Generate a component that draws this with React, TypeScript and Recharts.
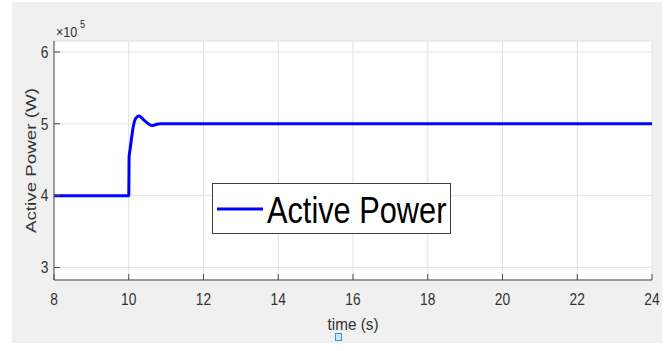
import React from 'react';
import { LineChart, Line, XAxis, YAxis, CartesianGrid, Legend } from 'recharts';

const timeValues = [8, 9, 10, 10.01, 10.034, 10.08, 10.12, 10.17, 10.23, 10.28, 10.39, 10.5, 10.62, 10.73, 10.84, 11, 12, 14, 16, 18, 20, 22, 24];
const powerValues = [400000, 400000, 400000, 454000, 464000, 482000, 496000, 506000, 510000, 511000, 506000, 501000, 497500, 499000, 500000, 500000, 500000, 500000, 500000, 500000, 500000, 500000, 500000];
const xTicks = [8, 10, 12, 14, 16, 18, 20, 22, 24];
const yTicks = [300000, 400000, 500000, 600000];
const seriesName = 'Active Power';

const data = timeValues.map((t, i) => ({ time: t, power: powerValues[i] }));

const FONT = '"Liberation Sans", Arial, Helvetica, sans-serif';
const AXIS = '#4a4a4a';
const TEXT = '#333333';
const GRID = '#e0e0e0';
const TICK_LEN = 6;

const BottomTick = (props: any) => {
  const { x, y, payload } = props;
  return (
    <g>
      <line x1={x} x2={x} y1={y} y2={y - TICK_LEN} stroke={AXIS} strokeWidth={1} />
      <text
        transform={`translate(${x},${y + 25}) scale(0.86,1)`}
        textAnchor="middle"
        fontSize={16}
        fill={TEXT}
        fontFamily={FONT}
      >
        {payload.value}
      </text>
    </g>
  );
};

const TopTick = (props: any) => {
  const { x, y } = props;
  return <line x1={x} x2={x} y1={y} y2={y + TICK_LEN} stroke={AXIS} strokeWidth={1} />;
};

const LeftTick = (props: any) => {
  const { x, y, payload } = props;
  return (
    <g>
      <line x1={x} x2={x + TICK_LEN} y1={y} y2={y} stroke={AXIS} strokeWidth={1} />
      <text
        transform={`translate(${x - 5.5},${y + 5.7}) scale(0.86,1)`}
        textAnchor="end"
        fontSize={16}
        fill={TEXT}
        fontFamily={FONT}
      >
        {payload.value / 100000}
      </text>
    </g>
  );
};

const RightTick = (props: any) => {
  const { x, y } = props;
  return <line x1={x} x2={x - TICK_LEN} y1={y} y2={y} stroke={AXIS} strokeWidth={1} />;
};

const XTitle = (props: any) => {
  const vb = props.viewBox || { x: 0, y: 0, width: 0, height: 0 };
  const cx = vb.x + vb.width / 2;
  return (
    <text
      transform={`translate(${cx},${vb.y + 50}) scale(0.9,1)`}
      textAnchor="middle"
      fontSize={17}
      fill={TEXT}
      fontFamily={FONT}
    >
      time (s)
    </text>
  );
};

const YTitle = (props: any) => {
  const vb = props.viewBox || { x: 0, y: 0, width: 0, height: 0 };
  const cy = vb.y + vb.height / 2;
  return (
    <g>
      <text
        transform={`translate(36,${cy}) rotate(-90) scale(1,0.81)`}
        textAnchor="middle"
        fontSize={18.8}
        fill={TEXT}
        fontFamily={FONT}
      >
        Active Power (W)
      </text>
      <text
        transform={`translate(${vb.x + vb.width + 2},${vb.y - 4.3}) scale(0.84,1)`}
        fontSize={15}
        fill={TEXT}
        fontFamily={FONT}
      >
        <tspan>×10</tspan>
        <tspan fontSize={11} dx={3} dy={-9}>5</tspan>
      </text>
    </g>
  );
};

const LegendBox = () => (
  <svg width={240} height={52} style={{ display: 'block' }}>
    <rect x={0.5} y={0.5} width={238} height={50} fill="#ffffff" stroke="#404040" strokeWidth={1} />
    <line x1={5} x2={51} y1={26} y2={26} stroke="#0000ff" strokeWidth={3} />
    <text
      transform="translate(55,40) scale(0.82,1)"
      fontSize={37.5}
      fill="#000000"
      fontFamily={FONT}
    >
      {seriesName}
    </text>
  </svg>
);

export default function App() {
  return (
    <div style={{ position: 'fixed', left: 0, top: 0, width: 672, height: 351, background: '#ffffff' }}>
      <div style={{ position: 'absolute', left: 12, top: 2, width: 650, height: 341, background: '#f0f0f0' }} />
      <div style={{ position: 'absolute', left: 0, top: 0 }}>
        <LineChart
          width={672}
          height={351}
          data={data}
          margin={{ top: 41, right: 20, bottom: 31, left: 0 }}
        >
          <CartesianGrid
            stroke={GRID}
            strokeWidth={1}
            fill="#ffffff"
            fillOpacity={1}
          />
          <XAxis
            dataKey="time"
            type="number"
            domain={[8, 24]}
            ticks={xTicks}
            allowDataOverflow
            height={40}
            tickSize={0}
            tickMargin={0}
            tickLine={false}
            axisLine={{ stroke: AXIS, strokeWidth: 1 }}
            tick={<BottomTick />}
            interval={0}
            label={<XTitle />}
          />
          <XAxis
            xAxisId="top"
            orientation="top"
            dataKey="time"
            type="number"
            domain={[8, 24]}
            ticks={xTicks}
            allowDataOverflow
            height={0}
            tickSize={0}
            tickMargin={0}
            tickLine={false}
            axisLine={{ stroke: AXIS, strokeWidth: 1 }}
            tick={<TopTick />}
            interval={0}
          />
          <YAxis
            type="number"
            domain={[282600, 615300]}
            ticks={yTicks}
            allowDataOverflow
            width={54}
            tickSize={0}
            tickMargin={0}
            tickLine={false}
            axisLine={{ stroke: AXIS, strokeWidth: 1 }}
            tick={<LeftTick />}
            interval={0}
            label={<YTitle />}
          />
          <YAxis
            yAxisId="right"
            orientation="right"
            type="number"
            domain={[282600, 615300]}
            ticks={yTicks}
            allowDataOverflow
            width={0}
            tickSize={0}
            tickMargin={0}
            tickLine={false}
            axisLine={{ stroke: AXIS, strokeWidth: 1 }}
            tick={<RightTick />}
            interval={0}
          />
          <Legend
            layout="horizontal"
            verticalAlign="middle"
            align="center"
            wrapperStyle={{ left: 212, top: 183, width: 240, height: 52 }}
            content={() => <LegendBox />}
          />
          <Line
            type="monotone"
            dataKey="power"
            name={seriesName}
            stroke="#0000ff"
            strokeWidth={3}
            dot={false}
            activeDot={false}
            isAnimationActive={false}
          />
        </LineChart>
      </div>
      <div
        style={{
          position: 'absolute',
          left: 335,
          top: 333,
          width: 5,
          height: 6,
          background: '#cfe5f8',
          border: '1px solid #3d8fdb',
        }}
      />
    </div>
  );
}
